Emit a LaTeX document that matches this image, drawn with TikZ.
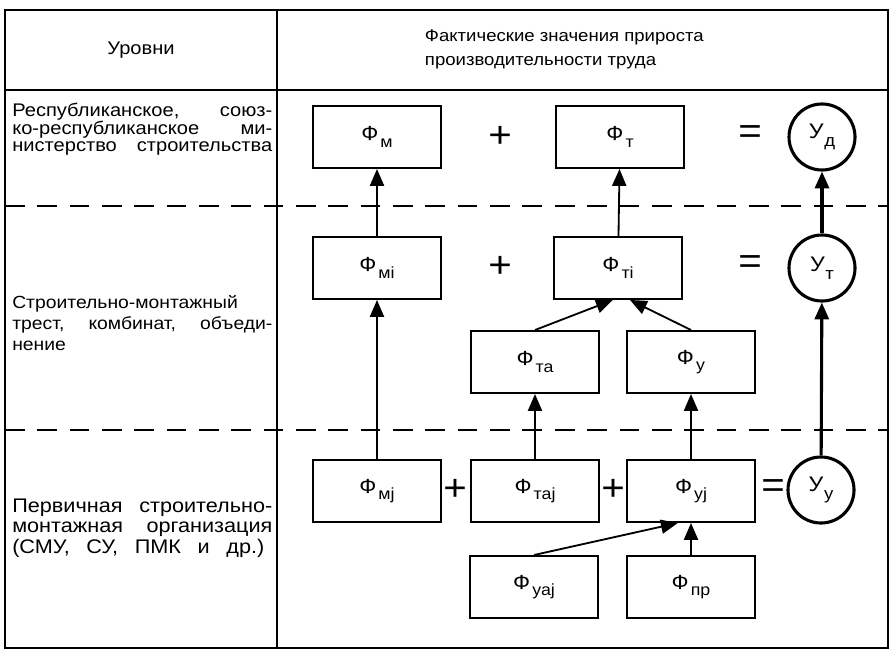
\documentclass[tikz,border=0pt]{standalone}
\usepackage{fontspec}
\setmainfont[FakeStretch=1.1]{Liberation Sans}
\usetikzlibrary{arrows.meta, positioning}

\newcommand{\fv}[1]{Ф\kern1.5pt\raisebox{-0.6ex}{\fontsize{11.5}{11.5}\selectfont #1}}
\newcommand{\uv}[1]{У\kern0.5pt\raisebox{-0.7ex}{\fontsize{12}{12}\selectfont #1}}
\newcommand{\jline}[2][6.5cm]{{\spaceskip=0pt\xspaceskip=0pt\makebox[#1][s]{#2}}}

\begin{document}
\begin{tikzpicture}[x=0.025cm, y=-0.025cm,
    box/.style={draw, line width=1.4pt, minimum width=3.18cm, minimum height=1.55cm,
      inner sep=0pt, font=\fontsize{14.5}{14.5}\selectfont},
    res/.style={draw, circle, line width=2.2pt, minimum size=1.65cm, inner sep=0pt,
      font=\fontsize{15}{15}\selectfont},
    up/.style={-{Triangle[length=12pt, width=10pt]}, line width=1.3pt},
    upthick/.style={up, line width=2.2pt},
    sign/.style={inner sep=0pt, font=\fontsize{26}{26}\selectfont},
    level/.style={anchor=west, inner sep=0pt, text width=6.5cm, align=left},
    sepline/.style={dash pattern=on 14pt off 9pt, line width=1.4pt}]
  \useasboundingbox (0,0) rectangle (892,652);

  % table frame
  \draw[line width=1.6pt] (5,10) rectangle (888,648);
  \draw[line width=1.6pt] (5,90) -- (888,90);
  \draw[line width=1.6pt] (277,10) -- (277,648);
  \draw[sepline] (5,206) -- (888,206);
  \draw[sepline] (5,430) -- (888,430);

  % header
  \node[font=\fontsize{13}{13}\selectfont] (hlev) at (141,50) {Уровни};
  \node[anchor=west, align=left, font=\fontsize{12}{17}\selectfont] (hval) at (420,49)
    {Фактические значения прироста\\производительности труда};

  % levels
  \node[level, font=\fontsize{13}{12}\selectfont] (lev1) at (12,129)
    {\jline{Республиканское, союз-}\\\jline{ко-республиканское ми-}\\\jline{нистерство строительства}};
  \node[level, font=\fontsize{12.5}{15}\selectfont] (lev2) at (12,323)
    {Строительно-монтажный\\\jline{трест, комбинат, объеди-}\\нение};
  \node[level, font=\fontsize{14}{14.6}\selectfont] (lev3) at (12,528)
    {\jline{Первичная строительно-}\\\jline{монтажная организация}\\\jline[6.3cm]{(СМУ, СУ, ПМК и др.)}};

  % ministry
  \node[box] (fm) at (377,137) {\fv{м}};
  \node[sign] (p1) at (500,137) {+};
  \node[box] (ft) at (620,137) {\fv{т}};
  \node[sign] (e1) at (750,135) {=};
  \node[res] (ud) at (822,137) {\uv{д}};

  % trust
  \node[box] (fmi) at (377,268) {\fv{мi}};
  \node[sign] (p2) at (500,267) {+};
  \node[box] (fti) at (618,268) {\fv{тi}};
  \node[sign] (e2) at (750,265) {=};
  \node[res] (ut) at (822,268) {\uv{т}};
  \node[box] (fta) at (535,362) {\fv{та}};
  \node[box] (fy) at (691,362) {\fv{у}};

  % primary organisation
  \node[box] (fmj) at (377,491) {\fv{мj}};
  \node[sign] (p3) at (455,490) {+};
  \node[box] (ftaj) at (535,491) {\fv{таj}};
  \node[sign] (p4) at (613,490) {+};
  \node[box] (fyj) at (691,491) {\fv{уj}};
  \node[sign] (e3) at (773,489) {=};
  \node[res] (uy) at (821,490) {\uv{у}};
  \node[box] (fyaj) at (534,587) {\fv{уаj}};
  \node[box] (fpr) at (691,587) {\fv{пр}};

  % links
  \draw[up] (fmj) -- (fmi);
  \draw[up] (fmi) -- (fm);
  \draw[up] (fti) -- (ft);
  \draw[up] (fta.north) -- ([xshift=-0.13cm]fti.south);
  \draw[up] (fy.north) -- ([xshift=0.3cm]fti.south);
  \draw[up] (ftaj) -- (fta);
  \draw[up] (fyj) -- (fy);
  \draw[up] (fyaj.north) -- ([xshift=-0.33cm]fyj.south);
  \draw[up] (fpr) -- (fyj);
  \draw[upthick] (uy) -- (ut);
  \draw[upthick] (ut) -- (ud);
\end{tikzpicture}
\end{document}
